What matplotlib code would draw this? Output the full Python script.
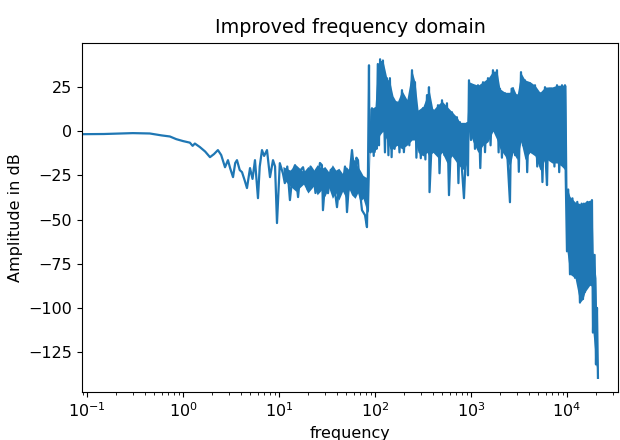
import matplotlib
matplotlib.use("Agg")
import matplotlib.pyplot as plt
import numpy as np

# trace: frequency (Hz) and amplitude (dB), zigzag order
trace_freq = [
    0.089, 0.15, 0.3, 0.45, 0.6, 0.73, 0.85, 1.0, 1.18, 1.26, 1.33, 1.5, 1.7,
    1.91, 2.1, 2.31, 2.5, 2.74, 2.94, 3.1, 3.32, 3.5, 3.65, 3.9, 4.12, 4.4,
    4.64, 4.99, 5.3, 5.62, 6.04, 6.3, 6.65, 7.0, 7.5, 8.06, 8.66, 9.1, 9.53,
    10.2, 11.0, 11.5, 12.2, 13.0, 14.0, 14.7, 15.3, 15.8, 16.8, 17.8, 19.0,
    20.0, 21.3, 22.6, 24.0, 25.5, 26.7, 28.0, 28.7, 30.5, 32.4, 34.5, 36.5,
    38.3, 40.2, 43.3, 46.4, 48.7, 51.1, 54.3, 57.6, 61.9, 64.0, 66.5, 70.0,
    73.2, 78.7, 82.5, 84.5, 86.6, 87.5,
    90, 93, 97, 100, 104, 107, 110, 113, 117, 121, 127, 133, 138, 143, 149,
    154, 160, 169, 180, 191, 200, 215, 228, 243, 252, 261, 270, 281, 300,
    316, 335, 348, 360, 365, 370, 402, 420, 453, 470, 499, 530, 562, 590,
    634, 680, 714, 740, 767, 800, 845, 880, 908, 930, 953, 1000, 1049, 1100,
    1183, 1250, 1334, 1400, 1503, 1600, 1694, 1780, 1866, 1940, 2005, 2100,
    2260, 2400, 2547, 2650, 2738, 2880, 3013, 3150, 3319, 3480, 3652, 3850,
    4118, 4350, 4642, 4900, 5233, 5550, 5898, 6050, 6193, 6500, 6982, 7400,
    7870, 8300, 8872, 9200, 9527, 9700, 10000, 10300, 10750, 11400, 12120,
    12800, 13650, 14200, 14680, 15000, 15400, 16300, 17370, 18210, 18660,
    19400, 20050, 20540, 21020,
]
trace_db = [
    -1.7, -1.6, -1.1, -1.3, -2.4, -3.0, -4.5, -5.6, -6.5, -8.3, -7.0, -9.0, -11.5,
    -14.7, -13.0, -10.7, -13.5, -20.4, -16.4, -21.0, -26.0, -18.0, -16.4, -22.0,
    -23.2, -28.0, -32.2, -20.9, -27.0, -16.4, -37.9, -20.0, -10.7, -14.0, -10.7,
    -26.0, -16.4, -20.0, -52.0, -18.1, -24.0, -29.4, -20.0, -39.0, -22.0, -19.2,
    -30.0, -37.3, -22.0, -20.4, -28.0, -33.4, -20.0, -22.1, -35.0, -26.6, -18.0,
    -19.2, -44.7, -26.0, -35.1, -22.0, -20.9, -34.0, -43.0, -25.0, -29.4, -20.0,
    -45.8, -25.0, -10.7, -27.7, -15.0, -16.4, -35.0, -44.7, -47.5, -54.3, -23.8,
    37.3, -8.0,
    -12.0, 13.0, -14.0, 12.0, -10.0, 38.0, -8.0, 40.7, 2.0, 40.0, -12.0, 30.0,
    -13.6, 30.0, -14.7, 16.0, -10.0, 16.4, -12.0, 23.2, -11.9, 16.4, -8.0, 34.5,
    -4.0, 27.7, -15.0, 10.7, -15.3, 13.0, -16.0, 20.4, -12.0, 24.9, -34.5, 11.9,
    -10.0, 14.7, -23.8, 17.5, -13.6, 15.8, -36.2, 10.7, -13.6, 7.9, -29.4, 5.1,
    -19.2, -37.9, -15.0, 4.5, -25.0, 28.8, -5.0, 26.0, -10.0, 26.0, -20.9, 27.7,
    -11.9, 30.0, -8.0, 34.5, 0.0, 34.5, -12.0, 24.0, -15.0, 21.5, -15.0, -40.2,
    24.0, 24.3, -13.6, 20.4, -23.0, 33.4, -8.0, 28.8, -23.2, 27.0, -12.0, 26.0,
    -20.0, 21.5, -28.8, 24.9, -20.0, -30.5, 24.0, 24.0, -20.0, 26.0, -23.2, 26.0,
    -20.0, 26.0, -25.0, -68.0, -33.0, -81.0, -38.0, -83.0, -40.0, -97.0, -41.0,
    -95.0, -41.0, -91.0, -40.0, -87.0, -39.0, -114.0, -70.0, -132.0, -100.0,
    -139.6,
]

# dense core of the trace (solid blue band), low / high edge in dB
band_freq = [
    11, 13, 15, 18, 20, 23, 25, 28, 30, 33, 36, 39, 42, 46, 50, 54, 57, 62,
    66, 70, 75, 80, 85.5,
    88.7, 93, 100, 107, 113, 121, 127, 133, 143, 154, 169, 191, 215, 243, 261,
    281, 316, 348, 365, 402, 453, 499, 562, 634, 714, 767, 845, 908, 953, 1049,
    1183, 1334, 1503, 1694, 1866, 2005, 2260, 2547, 2738, 3013, 3319, 3652,
    4118, 4642, 5233, 5898, 6193, 6982, 7870, 8872, 9527, 9764, 10000, 10750,
    12120, 13650, 14680, 15400, 17370, 18210, 18660, 20050, 20540, 21020,
]
band_lo = [
    -27, -31, -34, -30, -35, -31, -36, -33, -37, -32, -38, -35, -39, -34, -38,
    -33, -36, -38, -35, -40, -38, -43, -46,
    -10, -12, -12, -5, -2, 0, -3, -5, -10, -10, -8, -10, -8, -5, -5,
    -12, -14, -12, -14, -12, -15, -12, -18, -14, -18, -20, -22, -18, 0, -6,
    -12, -8, -6, 0, -5, -10, -14, -20, -12, -16, -6, -16,
    -12, -14, -22, -16, -16, -18, -18, -20, -22, -32, -68, -81,
    -83, -97, -95, -91, -87, -88, -114, -132, -135, -139.6,
]
band_hi = [
    -20, -22, -19, -23, -20, -22, -19, -21, -20, -23, -19, -22, -21, -24, -20,
    -22, -14, -17, -20, -22, -25, -26, -26,
    13, 13, 14, 38, 40, 40, 35, 30, 28, 20, 16, 23, 18, 34, 28,
    12, 14, 20, 24, 12, 15, 17, 14, 11, 8, 5, 5, 5, 28, 27,
    26, 28, 30, 34, 34, 24, 22, 22, 25, 20, 33, 29,
    28, 26, 22, 25, 25, 25, 26, 26, 26, 26, -32, -37,
    -40, -41, -41, -40, -39, -39, -68, -83, -115, -139.6,
]

blue = "#1f77b4"

fig = plt.figure(figsize=(6.2, 4.4), dpi=100)
ax = fig.add_axes([82 / 620, 48 / 440, 536 / 620, 349 / 440])

ax.fill_between(band_freq, band_lo, band_hi, color=blue, linewidth=0)
ax.semilogx(trace_freq, trace_db, color=blue, linewidth=1.6)

ax.set_xlim(0.0887, 34000)
ax.set_ylim(-147.6, 49.9)
ax.set_yticks([25, 0, -25, -50, -75, -100, -125])

ax.set_title("Improved frequency domain", fontsize=13.8, pad=7)
ax.set_xlabel("frequency", fontsize=11.5)
ax.set_ylabel("Amplitude in dB", fontsize=11.5)
ax.tick_params(labelsize=11.5)

fig.savefig("out.png", dpi=100)
